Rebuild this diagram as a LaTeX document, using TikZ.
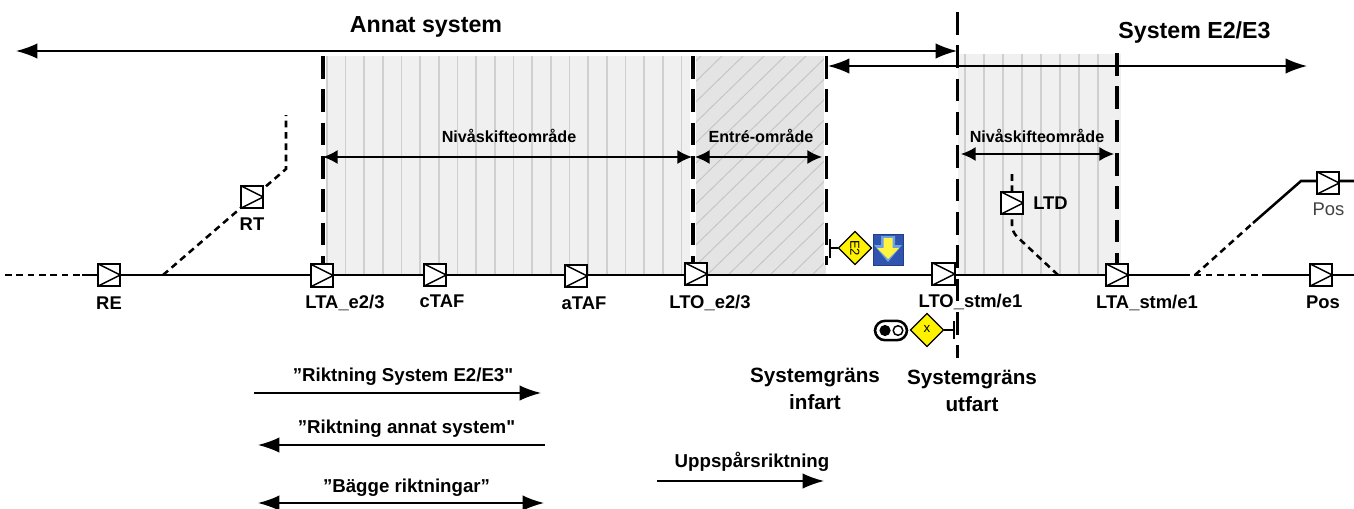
\documentclass[tikz,border=0pt]{standalone}
\usepackage{fontspec}
\setmainfont{Liberation Sans}
\newfontfamily\qfont{Liberation Sans}
\usetikzlibrary{arrows.meta,calc,shapes.geometric}
\definecolor{zonefill}{HTML}{F0F0F0}
\definecolor{zoneline}{HTML}{CFCFCF}
\definecolor{hatchfill}{HTML}{E4E4E4}
\definecolor{hatchline}{HTML}{C4C4C4}
\definecolor{signy}{HTML}{FFF200}
\definecolor{iconblue}{HTML}{2F55B0}
\definecolor{iconglow}{HTML}{6FA0E0}
\tikzset{
  x=0.75pt,y=-0.75pt,
  bal/.style={draw=black,line width=1.5pt,fill=white,minimum size=17pt,inner sep=0pt,outer sep=0pt,
    path picture={\draw[line width=1.1pt] (path picture bounding box.north west)--(path picture bounding box.east)--(path picture bounding box.south west);}},
  lab/.style={font=\bfseries\fontsize{13.8}{16}\selectfont,inner sep=0pt},
  zlab/.style={font=\bfseries\fontsize{12.1}{14}\selectfont,inner sep=0pt},
  toplab/.style={font=\bfseries\fontsize{17.4}{20}\selectfont,inner sep=0pt},
  dirlab/.style={font=\bfseries\fontsize{14}{16}\selectfont,inner sep=0pt},
  syslab/.style={font=\bfseries\fontsize{15.5}{20}\selectfont,inner sep=0pt,align=center},
  bound/.style={line width=2.3pt,dash pattern=on 17pt off 8pt},
  halo/.style={draw=white,line width=4.5pt},
  track/.style={line width=1.9pt},
  dotted track/.style={line width=1.9pt,dash pattern=on 5pt off 3.5pt},
  darr/.style={line width=1.1pt,{Latex[length=16pt,width=11.5pt]}-{Latex[length=16pt,width=11.5pt]}},
  zarr/.style={line width=1.1pt,{Latex[length=11pt,width=10.5pt]}-{Latex[length=11pt,width=10.5pt]}},
  sarr/.style={line width=1.1pt,-{Latex[length=16pt,width=11.5pt]}},
  dia/.style={draw=black,line width=0.9pt,fill=signy,inner sep=0pt,shape=diamond,aspect=1,minimum size=25pt},
  thinl/.style={line width=1.1pt},
}
\begin{document}
\begin{tikzpicture}
\useasboundingbox (0,0) rectangle (1354,508);
% zones
\fill[zonefill] (325,56) rectangle (693,275);
\foreach \i in {0,...,19}{\draw[zoneline,line width=1.3pt] ({326.7+18.67*\i},56)--({326.7+18.67*\i},275);}
\fill[hatchfill] (695,56) rectangle (826,275);
\begin{scope}
\clip (695,56) rectangle (826,275);
\foreach \i in {0,...,18}{\draw[hatchline,line width=0.7pt] ({680+21*\i},56)--({680+21*\i-225},275);}
\end{scope}
\fill[zonefill] (958,54) rectangle (1121,275);
\foreach \i in {0,...,7}{\draw[zoneline,line width=1.3pt] ({965+19*\i},54)--({965+19*\i},275);}
% boundary coordinates
\coordinate (b1t) at (323,56); \coordinate (b1b) at (323,268);
\coordinate (b2t) at (693,56); \coordinate (b2b) at (693,268);
\coordinate (b3t) at (826.5,56); \coordinate (b3b) at (826.5,265);
\coordinate (b4t) at (957.5,12); \coordinate (b4b) at (957.5,358);
\coordinate (b5t) at (1117,53); \coordinate (b5b) at (1117,263);
\draw[halo] (b1t)--(b1b); \draw[halo] (b2t)--(b2b); \draw[halo] (b3t)--(b3b);
\draw[bound] (b1t)--(b1b); \draw[bound] (b2t)--(b2b); \draw[bound] (b3t)--(b3b);
\draw[bound] (b4t)--(b4b); \draw[bound] (b5t)--(b5b);
% top arrows
\coordinate (a1l) at (16,51); \coordinate (a1r) at (957,51);
\coordinate (a2l) at (828,66); \coordinate (a2r) at (1307,66);
\draw[darr] (a1l)--(a1r);
\draw[darr] (a2l)--(a2r);
\node[toplab] (tannat) at (426,27) {Annat system};
\node[toplab] (tsys) at (1194.5,32) {System E2/E3};
% zone arrows
\coordinate (n1l) at (323,157); \coordinate (n1r) at (692,157);
\coordinate (n2l) at (695,157); \coordinate (n2r) at (822,157);
\coordinate (n3l) at (961,154); \coordinate (n3r) at (1114,154);
\draw[zarr] (n1l)--(n1r); \draw[zarr] (n2l)--(n2r); \draw[zarr] (n3l)--(n3r);
\node[zlab] (t1) at (509,136) {Nivåskifteområde};
\node[zlab] (t2) at (761,136) {Entré-område};
\node[zlab] (t3) at (1037,136) {Nivåskifteområde};
% track
\coordinate (t0) at (5,275);
\coordinate (t00) at (82,275);
\coordinate (sw1) at (163,275);
\coordinate (sw1a) at (286,169);
\coordinate (sw1b) at (286,115);
\coordinate (tend) at (1354,275);
\coordinate (s1) at (1183,275);
\coordinate (s2) at (1268,275);
\coordinate (sw2) at (1058,275);
\coordinate (ld1) at (1012,232);
\coordinate (ld2) at (1012,170);
\coordinate (u0) at (1195,275);
\coordinate (u1) at (1253,223);
\coordinate (u2) at (1301,181);
\coordinate (u3) at (1354,181);
\draw[dotted track] (t0)--(t00);
\draw[track] (t00)--(s1);
\draw[dotted track] (s1)--(s2);
\draw[track] (s2)--(tend);
\draw[dotted track] (sw1)--(sw1a)--(sw1b);
\draw[dotted track,rounded corners=5pt] (sw2)--(ld1)--(ld2);
\draw[dotted track] (u0)--(u1);
\draw[track] (u1)--(u2)--(u3);
% balises
\node[bal] (re) at (109,275) {};
\node[bal] (rt) at (252,197) {};
\node[bal] (lta) at (322,275.5) {};
\node[bal] (ctaf) at (435,275) {};
\node[bal] (ataf) at (576,276) {};
\node[bal] (lto) at (696,274) {};
\node[bal] (ltos) at (943.5,274) {};
\node[bal] (ltd) at (1012,203) {};
\node[bal] (ltas) at (1117,275) {};
\node[bal] (pos1) at (1328,183) {};
\node[bal] (pos2) at (1321,275) {};
% balise labels
\node[lab] (lre) at (109,303) {RE};
\node[lab] (lrt) at (252,224) {RT};
\node[lab] (llta) at (345,303) {LTA\_e2/3};
\node[lab] (lctaf) at (442,301) {cTAF};
\node[lab] (lataf) at (584,303) {aTAF};
\node[lab] (llto) at (710,303) {LTO\_e2/3};
\node[lab] (lltos) at (970.5,302) {LTO\_stm/e1};
\node[lab,anchor=west] (lltd) at (1033,203) {LTD};
\node[lab] (lltas) at (1147,303) {LTA\_stm/e1};
\node[font=\fontsize{13.8}{16}\selectfont,inner sep=0pt,text=black!75] (lpos1) at (1328.5,209) {Pos};
\node[lab] (lpos2) at (1323,302) {Pos};
% E2 marker
\node[dia] (e2) at (855,248) {};
\node[rotate=-90,font=\fontsize{9.8}{10}\selectfont,inner sep=0pt] (e2t) at (855,248) {E2};
\coordinate (e2s) at (830,248);
\draw[thinl] (e2.west)--(e2s);
\draw[thinl] (830,239)--(830,258);
% icon
\fill[iconblue] (873,234) rectangle (903,265);
\fill[iconglow] (881,236)--(895,236)--(895,245)--(902,245)--(888,262)--(874,245)--(881,245)--cycle;
\draw[iconblue!75!black,line width=0.7pt] (873,234) rectangle (903,265);
\fill[signy!75!white] (883.5,238)--(892.5,238)--(892.5,248)--(899,248)--(888,259)--(877,248)--(883.5,248)--cycle;
% signal
\node[draw=black,line width=1.9pt,rounded corners=7.5pt,minimum width=24pt,minimum height=14.5pt,inner sep=0pt,fill=white] (sig) at (891,330.5) {};
\fill (885,330.5) circle (5.6);
\draw[line width=1.1pt] (898,330.5) circle (4.8);
\node[dia] (xd) at (927,330) {};
\node[font=\fontsize{10}{10}\selectfont,inner sep=0pt] (xt) at (927,329) {x};
\coordinate (xs) at (954,330);
\draw[thinl] (xd.east)--(xs);
\draw[thinl] (954,321)--(954,339);
% system labels
\node[syslab] (si) at (815,389) {Systemgräns\\infart};
\node[syslab] (su) at (972,391) {Systemgräns\\utfart};
% legend
\node[dirlab] (d1) at (403,377) {{\qfont\bfseries ”}Riktning System E2/E3{\qfont\bfseries "}};
\coordinate (d1l) at (254,393); \coordinate (d1r) at (541,393);
\draw[sarr] (d1l)--(d1r);
\node[dirlab] (d2) at (406.5,429) {{\qfont\bfseries ”}Riktning annat system{\qfont\bfseries "}};
\coordinate (d2l) at (258,445); \coordinate (d2r) at (545,445);
\draw[sarr] (d2r)--(d2l);
\node[dirlab] (d3) at (406.5,488) {”Bägge riktningar”};
\coordinate (d3l) at (258,503); \coordinate (d3r) at (544,503);
\draw[darr] (d3l)--(d3r);
\node[dirlab] (d4) at (752,462) {Uppspårsriktning};
\coordinate (d4l) at (657,481); \coordinate (d4r) at (824,481);
\draw[sarr] (d4l)--(d4r);
\end{tikzpicture}
\end{document}
